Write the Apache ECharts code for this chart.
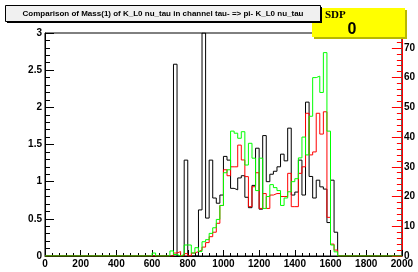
<!DOCTYPE html>
<html>
<head>
<meta charset="utf-8">
<script src="https://cdn.jsdelivr.net/npm/echarts@6/dist/echarts.min.js"></script>
<style>
  html, body { margin: 0; padding: 0; background: #fff; }
  #chart { width: 418px; height: 272px; }
</style>
</head>
<body>
<div id="chart"></div>
<script>
// histogram bins: 20 wide, first listed bin starts at 600
var binWidth = 20;
var firstBin = 600;

// black histogram (left axis)
var blackVals = [0, 0, 0, 0, 0, 0, 2.58, 0, 0, 1.29,
    0, 0, 0, 0.62, 3.0, 0.51, 1.29, 0.78, 0.71, 0.82,
    1.34, 1.29, 0.91, 0.89, 1.05, 1.08, 0.79, 0.65, 0.95, 1.45,
    0.63, 1.62, 1.0, 1.1, 1.14, 1.2, 1.37, 1.28, 1.72, 0.82,
    0.86, 1.29, 0.82, 2.07, 1.07, 0.78, 1.02, 0.93, 0.9, 0.45,
    1.02, 0.32, 0];

// red histogram (right axis)
var redVals = [0, 0, 0, 0, 0, 0, 1, 1.5, 0, 0.8,
    0, 1, 1.5, 2, 3, 4.5, 6.5, 8, 11, 17,
    29, 27, 30, 30, 37.3, 32.3, 26.7, 16.6, 23.3, 28,
    16, 21, 16, 20.5, 21, 21, 20, 20, 27.8, 16.6,
    16.6, 27.8, 30, 48, 34, 35, 48, 41, 48.5, 13,
    4, 2, 0];

// green histogram (right axis)
var greenVals = [1, 0, 0, 0, 0, 1.7, 0.5, 0, 0.5, 3.7,
    3.7, 1, 2.8, 1.5, 4.8, 5.5, 7.6, 9.5, 12.3, 17,
    28, 29, 42, 41.3, 39.6, 41.8, 30.6, 37.9, 32.9, 22,
    32.9, 16, 20, 24, 23, 22, 17, 19.5, 21.6, 25,
    26, 33, 40, 34, 47, 60, 60.5, 55, 68.4, 42,
    3.7, 1.4, 0];

var xTicks = [0, 2000, 200];
var leftTicks = [0, 3, 0.5];
var rightTicks = [0, 75, 10];

function histData(vals) {
    var data = [];
    for (var x = 0; x < firstBin; x += binWidth) data.push([x, 0]);
    for (var i = 0; i < vals.length; i++) data.push([firstBin + i * binWidth, vals[i]]);
    for (var x2 = firstBin + vals.length * binWidth; x2 <= 2000; x2 += binWidth) data.push([x2, 0]);
    return data;
}

function plain(v) {
    return String(v);
}

var labelFont = {
    color: '#000',
    fontFamily: 'Liberation Sans, Arial, sans-serif',
    fontWeight: 'bold',
    fontSize: 10,
    formatter: plain
};

var chart = echarts.init(document.getElementById('chart'));

var option = {
    animation: false,
    backgroundColor: '#fff',
    grid: {
        left: 45, right: 12, top: 33, bottom: 16,
        show: true, borderColor: '#000', borderWidth: 1, backgroundColor: 'transparent'
    },
    xAxis: {
        type: 'value',
        min: xTicks[0], max: xTicks[1], interval: xTicks[2],
        axisLine: { lineStyle: { color: '#000', width: 1 } },
        axisTick: { inside: true, length: 6, lineStyle: { color: '#000' } },
        minorTick: { show: true, splitNumber: 5, length: 3, lineStyle: { color: '#000' } },
        axisLabel: Object.assign({ margin: 3 }, labelFont),
        splitLine: { show: false }
    },
    yAxis: [{
        type: 'value',
        position: 'left',
        min: leftTicks[0], max: leftTicks[1], interval: leftTicks[2],
        axisLine: { show: true, lineStyle: { color: '#000', width: 1 } },
        axisTick: { show: true, inside: true, length: 9, lineStyle: { color: '#000' } },
        minorTick: { show: true, splitNumber: 5, length: 5, lineStyle: { color: '#000' } },
        axisLabel: Object.assign({ margin: 3 }, labelFont),
        splitLine: { show: false }
    }, {
        type: 'value',
        position: 'right',
        min: rightTicks[0], max: rightTicks[1], interval: rightTicks[2],
        axisLine: { show: true, lineStyle: { color: '#ff0000', width: 1 } },
        axisTick: { show: true, inside: true, length: 10, lineStyle: { color: '#ff0000' } },
        minorTick: { show: true, splitNumber: 5, length: 5, lineStyle: { color: '#ff0000' } },
        axisLabel: Object.assign({ margin: 2, showMaxLabel: false }, labelFont),
        splitLine: { show: false }
    }],
    series: [{
        name: 'black',
        type: 'line',
        step: 'end',
        yAxisIndex: 0,
        symbol: 'none',
        data: histData(blackVals),
        lineStyle: { color: '#000', width: 1 }
    }, {
        name: 'red',
        type: 'line',
        step: 'end',
        yAxisIndex: 1,
        symbol: 'none',
        data: histData(redVals),
        lineStyle: { color: '#ff0000', width: 1 }
    }, {
        name: 'green',
        type: 'line',
        step: 'end',
        yAxisIndex: 1,
        symbol: 'none',
        data: histData(greenVals),
        lineStyle: { color: '#00ff00', width: 1 }
    }],
    graphic: [
        // SDP pave
        { type: 'rect', z: 100, shape: { x: 314, y: 10, width: 93, height: 29 }, style: { fill: '#b8b800' } },
        { type: 'rect', z: 100, shape: { x: 312, y: 8, width: 93, height: 29 }, style: { fill: '#ffff00' } },
        { type: 'text', z: 101, x: 325, y: 15, style: { text: 'SDP', font: 'bold 11px "Liberation Serif", serif', fill: '#000', verticalAlign: 'middle' } },
        { type: 'text', z: 101, x: 352, y: 30, style: { text: '0', font: 'bold 16px "Liberation Sans", sans-serif', fill: '#000', align: 'center', verticalAlign: 'middle' } },
        // title pave
        { type: 'rect', z: 102, shape: { x: 7, y: 7, width: 315, height: 16 }, style: { fill: '#000' } },
        { type: 'rect', z: 102, shape: { x: 5.5, y: 5.5, width: 315, height: 16 }, style: { fill: '#f0f0f0', stroke: '#000', lineWidth: 1 } },
        { type: 'text', z: 103, x: 163, y: 14, style: { text: 'Comparison of Mass(1) of K_L0 nu_tau in channel tau- => pi- K_L0 nu_tau', font: 'bold 8px "Liberation Sans", sans-serif', fill: '#000', align: 'center', verticalAlign: 'middle' } }
    ]
};

chart.setOption(option);
</script>
</body>
</html>
